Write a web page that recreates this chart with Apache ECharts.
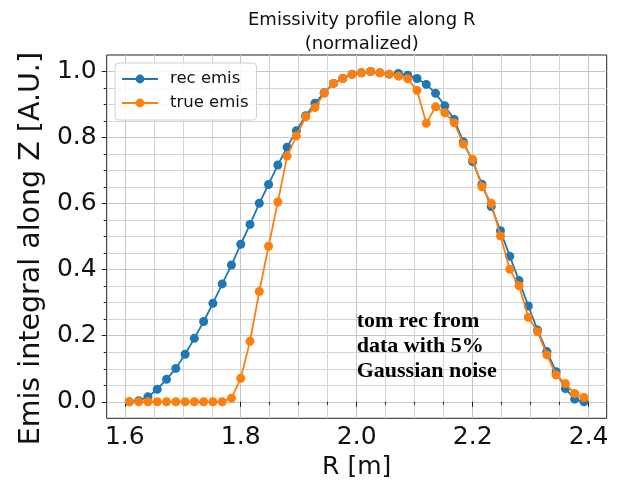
<!DOCTYPE html>
<html>
<head>
<meta charset="utf-8">
<script src="https://cdn.jsdelivr.net/npm/echarts@6/dist/echarts.min.js"></script>
<style>
html,body{margin:0;padding:0;background:#fff;}
#chart{width:628px;height:490px;}
</style>
</head>
<body>
<div id="chart"></div>
<script>
const rValues = [1.608,1.624,1.640,1.656,1.672,1.688,1.704,1.720,1.736,1.752,
  1.768,1.784,1.800,1.816,1.832,1.848,1.864,1.880,1.896,1.912,
  1.928,1.944,1.960,1.976,1.992,2.008,2.024,2.040,2.056,2.072,
  2.088,2.104,2.120,2.136,2.152,2.168,2.184,2.200,2.216,2.232,
  2.248,2.264,2.280,2.296,2.312,2.328,2.344,2.360,2.376,2.392];
const recEmis = [0.000,0.003,0.015,0.038,0.068,0.101,0.144,0.192,0.243,0.298,
  0.357,0.414,0.477,0.537,0.601,0.658,0.717,0.771,0.821,0.866,
  0.904,0.936,0.964,0.979,0.992,0.996,1.000,0.996,0.992,0.994,
  0.989,0.979,0.961,0.934,0.896,0.855,0.787,0.727,0.659,0.591,
  0.518,0.441,0.367,0.290,0.217,0.152,0.091,0.040,0.008,0.000];
const trueEmis = [0.000,0.000,0.000,0.000,0.000,0.000,0.000,0.000,0.000,0.000,
  0.000,0.011,0.071,0.183,0.334,0.471,0.605,0.744,0.805,0.863,
  0.891,0.934,0.964,0.979,0.991,0.996,1.000,0.996,0.992,0.986,
  0.978,0.943,0.843,0.893,0.875,0.845,0.780,0.734,0.651,0.601,
  0.502,0.401,0.351,0.256,0.212,0.142,0.081,0.055,0.025,0.013];
const xTicks = [1.6,1.8,2.0,2.2,2.4];
const yTicks = [0.0,0.2,0.4,0.6,0.8,1.0];
const seriesNames = ['rec emis','true emis'];
const titleLines = ['Emissivity profile along R','(normalized)'];
const xName = 'R [m]';
const yName = 'Emis integral along Z [A.U.]';
const noteLines = ['tom rec from','data with 5%','Gaussian noise'];

const FONT = "'DejaVu Sans', sans-serif";
const chart = echarts.init(document.getElementById('chart'), null, {renderer:'canvas'});
const pairs = arr => rValues.map((r,i)=>[r, arr[i]]);

const axisCommon = {
  axisLine:{show:false},
  axisTick:{show:true, inside:false, length:5, lineStyle:{color:'#222', width:1}},
  minorTick:{show:true, splitNumber:4, length:3, lineStyle:{color:'#222', width:1}},
  splitLine:{show:true, lineStyle:{color:'#c6c6c6', width:1}},
  minorSplitLine:{show:true, lineStyle:{color:'#d4d4d4', width:1}},
  nameLocation:'middle'
};

chart.setOption({
  animation:false,
  backgroundColor:'#fff',
  title:{
    text: titleLines.join('\n'),
    left: 356.7, top: 3, textAlign:'center',
    textStyle:{fontFamily:FONT, fontSize:18, fontWeight:'normal', color:'#111', lineHeight:24}
  },
  grid:{left:106.7, top:55, width:500, height:363.3, show:true, borderColor:'#222', borderWidth:1, backgroundColor:'transparent', containLabel:false},
  legend:{
    orient:'vertical', left:115, top:63,
    data: seriesNames,
    backgroundColor:'rgba(255,255,255,0.85)', borderColor:'#d0d0d0', borderWidth:1, borderRadius:4,
    padding:[7,8,8,6],
    itemWidth:36, itemHeight:11, itemGap:6,
    textStyle:{fontFamily:FONT, fontSize:16.5, color:'#111', lineHeight:18, padding:[0,0,0,7]}
  },
  xAxis:Object.assign({}, axisCommon, {
    type:'value', min:1.5688, max:2.4312,
    name:xName, nameGap:36,
    nameTextStyle:{fontFamily:FONT, fontSize:25, color:'#111'},
    axisTick:Object.assign({}, axisCommon.axisTick, {customValues:xTicks}),
    axisLabel:{customValues:xTicks, fontFamily:FONT, fontSize:25, color:'#111', margin:7,
      formatter:v=>Number(v).toFixed(1)}
  }),
  yAxis:Object.assign({}, axisCommon, {
    type:'value', min:-0.05, max:1.05,
    name:yName, nameGap:60,
    nameTextStyle:{fontFamily:FONT, fontSize:28.5, color:'#111', padding:[0,24,0,0]},
    axisTick:Object.assign({}, axisCommon.axisTick, {customValues:yTicks}),
    axisLabel:{customValues:yTicks, fontFamily:FONT, fontSize:25, color:'#111', margin:10,
      formatter:v=>Number(v).toFixed(1)}
  }),
  graphic:[{
    type:'text', left:356.7, top:309.2, z:10,
    style:{text:noteLines.join('\n'), font:"bold 22px 'Liberation Serif', serif", fill:'#000', lineHeight:25}
  }],
  series:[
    {name:seriesNames[0], type:'line', data:pairs(recEmis), symbol:'circle', symbolSize:9, showAllSymbol:true,
      color:'#1f77b4', lineStyle:{width:1.8, color:'#1f77b4'}, itemStyle:{color:'#1f77b4', borderWidth:0}, z:3},
    {name:seriesNames[1], type:'line', data:pairs(trueEmis), symbol:'circle', symbolSize:9, showAllSymbol:true,
      color:'#ff7f0e', lineStyle:{width:1.8, color:'#ff7f0e'}, itemStyle:{color:'#ff7f0e', borderWidth:0}, z:4}
  ]
});
</script>
</body>
</html>
